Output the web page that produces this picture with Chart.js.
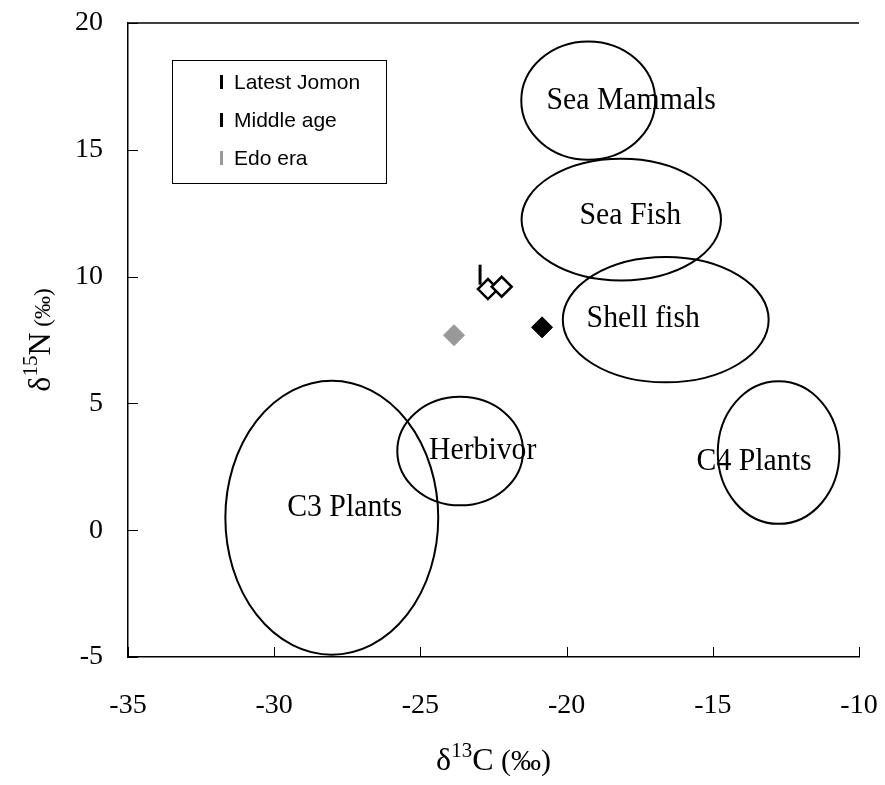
<!DOCTYPE html>
<html>
<head>
<meta charset="utf-8">
<script src="https://cdn.jsdelivr.net/npm/chart.js@4.4.1/dist/chart.umd.min.js"></script>
<style>
  html, body { margin: 0; padding: 0; background: #fff; }
  #wrap { width: 885px; height: 785px; }
</style>
</head>
<body>
<div id="wrap"><canvas id="c" width="885" height="785"></canvas></div>
<script>
// Human bone collagen measurements (δ13C, δ15N in ‰)
const latestJomonX = [-22.69, -22.22];
const latestJomonY = [9.51, 9.60];
const latestJomonBarX = [-22.96, -22.96];
const latestJomonBarY = [9.68, 10.47];
const middleAgeX = [-20.84];
const middleAgeY = [8.00];
const edoEraX = [-23.85];
const edoEraY = [7.69];

// Food source ranges, drawn as ellipses (centre and half-widths in ‰)
const groupNames = ['Sea Mammals', 'Sea Fish', 'Shell fish', 'Herbivor', 'C3 Plants', 'C4 Plants'];
const groupCenterX = [-19.26, -18.13, -16.61, -23.64, -28.03, -12.75];
const groupCenterY = [16.94, 12.25, 8.30, 3.12, 0.49, 3.06];
const groupRadiusX = [2.29, 3.41, 3.52, 2.15, 3.64, 2.08];
const groupRadiusY = [2.33, 2.40, 2.47, 2.14, 5.40, 2.81];
const groupLabelX = [-17.79, -17.82, -17.38, -22.87, -27.59, -13.59];
const groupLabelY = [16.62, 12.09, 8.01, 2.81, 0.57, 2.36];

const xTicks = [-35, -30, -25, -20, -15, -10];
const yTicks = [-5, 0, 5, 10, 15, 20];
const legendNames = ['Latest Jomon', 'Middle age', 'Edo era'];
const legendColors = ['#000000', '#000000', '#999999'];

const zip = (xs, ys) => xs.map((x, i) => ({ x: x, y: ys[i] }));

const SERIF = '"Liberation Serif", "Times New Roman", serif';
const SANS = '"Liberation Sans", Arial, sans-serif';

// Draws a run of text pieces (with optional superscripts) starting at x, on baseline y
function drawPieces(ctx, pieces, x, y) {
  let cx = x;
  pieces.forEach(p => {
    ctx.font = p.size + 'px ' + SERIF;
    ctx.fillText(p.t, cx, y - (p.rise || 0));
    cx += ctx.measureText(p.t).width;
  });
}
function piecesWidth(ctx, pieces) {
  let w = 0;
  pieces.forEach(p => {
    ctx.font = p.size + 'px ' + SERIF;
    w += ctx.measureText(p.t).width;
  });
  return w;
}

// Fixed axis thickness, with no extra room reserved for overhanging tick labels
function fixAxis(scale, size) {
  if (scale.isHorizontal()) scale.height = size; else scale.width = size;
  scale.paddingTop = 0;
  scale.paddingBottom = 0;
  scale.paddingLeft = 0;
  scale.paddingRight = 0;
}

const decorations = {
  id: 'decorations',
  beforeDatasetsDraw(chart) {
    const ctx = chart.ctx;
    const xs = chart.scales.x, ys = chart.scales.y;
    const a = chart.chartArea;
    ctx.save();
    // top frame line
    ctx.strokeStyle = '#000';
    ctx.lineWidth = 1.5;
    ctx.beginPath();
    ctx.moveTo(a.left, a.top);
    ctx.lineTo(a.right, a.top);
    ctx.stroke();
    // inward tick marks
    ctx.lineWidth = 1;
    ctx.beginPath();
    xs.ticks.forEach(t => {
      const px = Math.round(xs.getPixelForValue(t.value)) + 0.5;
      ctx.moveTo(px, a.bottom);
      ctx.lineTo(px, a.bottom - 10);
    });
    ys.ticks.forEach(t => {
      const py = Math.round(ys.getPixelForValue(t.value)) + 0.5;
      ctx.moveTo(a.left, py);
      ctx.lineTo(a.left + 10, py);
    });
    ctx.stroke();
    // food source ellipses
    ctx.lineWidth = 2;
    groupNames.forEach((name, i) => {
      const cx = xs.getPixelForValue(groupCenterX[i]);
      const cy = ys.getPixelForValue(groupCenterY[i]);
      const rx = Math.abs(xs.getPixelForValue(groupCenterX[i] + groupRadiusX[i]) - cx);
      const ry = Math.abs(ys.getPixelForValue(groupCenterY[i] + groupRadiusY[i]) - cy);
      ctx.beginPath();
      ctx.ellipse(cx, cy, rx, ry, 0, 0, Math.PI * 2);
      ctx.stroke();
    });
    // food source names
    ctx.fillStyle = '#000';
    ctx.textAlign = 'center';
    ctx.textBaseline = 'alphabetic';
    ctx.font = '32px ' + SERIF;
    groupNames.forEach((name, i) => {
      const lx = xs.getPixelForValue(groupLabelX[i]);
      const ly = ys.getPixelForValue(groupLabelY[i]);
      ctx.save();
      ctx.translate(lx, ly);
      ctx.scale(0.93, 1);
      ctx.fillText(name, 0, 0);
      ctx.restore();
    });
    ctx.restore();
  },
  afterDraw(chart) {
    const ctx = chart.ctx;
    const a = chart.chartArea;
    ctx.save();
    // legend box
    ctx.strokeStyle = '#000';
    ctx.lineWidth = 1;
    ctx.strokeRect(172.5, 60.5, 214, 123);
    ctx.font = '21px ' + SANS;
    ctx.textAlign = 'left';
    ctx.textBaseline = 'middle';
    legendNames.forEach((name, i) => {
      const ry = 82 + i * 38;
      ctx.fillStyle = legendColors[i];
      ctx.fillRect(220, ry - 7, 3, 14);
      ctx.fillStyle = '#000';
      ctx.fillText(name, 234, ry + 1);
    });
    // axis titles
    ctx.fillStyle = '#000';
    ctx.textAlign = 'left';
    ctx.textBaseline = 'alphabetic';
    const xt = [{ t: 'δ', size: 32 }, { t: '13', size: 21, rise: 13 }, { t: 'C', size: 32 }, { t: ' (‰)', size: 30 }];
    const xw = piecesWidth(ctx, xt);
    drawPieces(ctx, xt, (a.left + a.right) / 2 - xw / 2, 770);
    const yt = [{ t: 'δ', size: 32 }, { t: '15', size: 21, rise: 13 }, { t: 'N', size: 32 }, { t: ' (‰)', size: 23 }];
    const yw = piecesWidth(ctx, yt);
    ctx.translate(50, (a.top + a.bottom) / 2);
    ctx.rotate(-Math.PI / 2);
    drawPieces(ctx, yt, -yw / 2, 0);
    ctx.restore();
  }
};

new Chart(document.getElementById('c'), {
  type: 'scatter',
  data: {
    datasets: [
      {
        label: legendNames[0],
        data: zip(latestJomonX, latestJomonY),
        pointStyle: 'rectRot',
        pointRadius: 10,
        backgroundColor: '#ffffff',
        borderColor: '#000000',
        borderWidth: 2.5
      },
      {
        label: legendNames[0] + ' range',
        type: 'line',
        data: zip(latestJomonBarX, latestJomonBarY),
        showLine: true,
        borderColor: '#000000',
        borderWidth: 3,
        pointRadius: 0,
        fill: false
      },
      {
        label: legendNames[1],
        data: zip(middleAgeX, middleAgeY),
        pointStyle: 'rectRot',
        pointRadius: 10.5,
        backgroundColor: '#000000',
        borderColor: '#000000',
        borderWidth: 1
      },
      {
        label: legendNames[2],
        data: zip(edoEraX, edoEraY),
        pointStyle: 'rectRot',
        pointRadius: 10.5,
        backgroundColor: '#999999',
        borderColor: '#999999',
        borderWidth: 1
      }
    ]
  },
  options: {
    responsive: false,
    animation: false,
    devicePixelRatio: 1,
    layout: { padding: { top: 23, right: 26, left: 0, bottom: 0 } },
    plugins: {
      legend: { display: false },
      tooltip: { enabled: false }
    },
    scales: {
      x: {
        type: 'linear',
        min: -35,
        max: -10,
        afterBuildTicks(scale) { scale.ticks = xTicks.map(v => ({ value: v })); },
        afterFit(scale) { fixAxis(scale, 128); },
        grid: { drawOnChartArea: false, drawTicks: false },
        border: { display: true, color: '#000', width: 1.5 },
        ticks: {
          color: '#000',
          padding: 32,
          maxRotation: 0,
          font: { family: SERIF, size: 28 }
        }
      },
      y: {
        type: 'linear',
        min: -5,
        max: 20,
        afterBuildTicks(scale) { scale.ticks = yTicks.map(v => ({ value: v })); },
        afterFit(scale) { fixAxis(scale, 128); },
        grid: { drawOnChartArea: false, drawTicks: false },
        border: { display: true, color: '#000', width: 1.5 },
        ticks: {
          color: '#000',
          padding: 25,
          font: { family: SERIF, size: 28 }
        }
      }
    }
  },
  plugins: [decorations]
});
</script>
</body>
</html>
